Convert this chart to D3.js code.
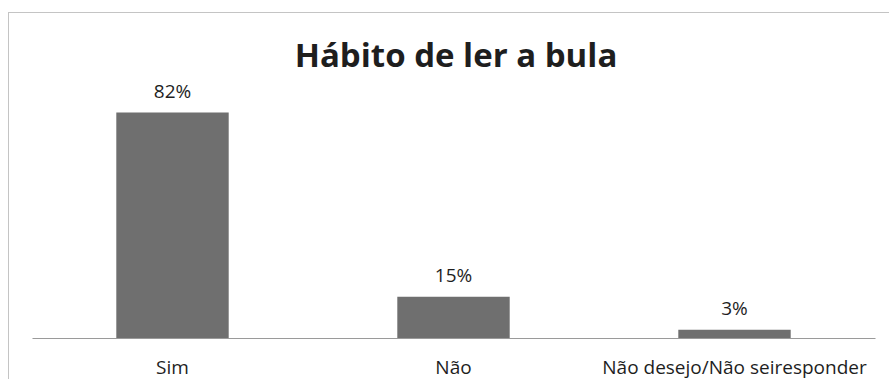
<!DOCTYPE html>
<html>
<head>
<meta charset="utf-8">
<script src="https://cdn.jsdelivr.net/npm/d3@7"></script>
<style>
  html, body { margin: 0; padding: 0; background: #fff; }
  svg { display: block; }
  text { font-family: "Open Sans", "Noto Sans", sans-serif; fill: #1e1e1e; }
</style>
</head>
<body>
<svg id="chart" width="889" height="379"></svg>
<script>
// Survey answers: habit of reading the medicine leaflet
const categories = ["Sim", "Não", "Não desejo/Não seiresponder"];
const values = [82, 15, 3];
const valueLabels = ["82%", "15%", "3%"];
const title = "Hábito de ler a bula";

const svg = d3.select("#chart");
const W = 889, H = 379;

// chart frame (left and top edges visible)
svg.append("rect")
  .attr("x", 8.5).attr("y", 12.5)
  .attr("width", W + 10).attr("height", H + 10)
  .attr("fill", "#fff")
  .attr("stroke", "#c4c4c4")
  .attr("stroke-width", 1);

const plot = { left: 32, right: 875, base: 338 };

const x = d3.scaleBand()
  .domain(categories)
  .range([plot.left, plot.right])
  .paddingInner(0.6)
  .paddingOuter(0.3);

const y = d3.scaleLinear()
  .domain([0, 90])
  .range([plot.base, plot.base - 247.5]);

// bars
svg.append("g").selectAll("rect")
  .data(categories)
  .join("rect")
  .attr("x", d => x(d))
  .attr("y", (d, i) => y(values[i]))
  .attr("width", x.bandwidth())
  .attr("height", (d, i) => y(0) - y(values[i]))
  .attr("fill", "#6f6f6f");

// category axis line
const axis = d3.axisBottom(x).tickSize(0).tickPadding(0);
const gx = svg.append("g")
  .attr("transform", `translate(0,${plot.base})`)
  .call(axis);
gx.select(".domain").attr("stroke", "#9a9a9a").attr("stroke-width", 1.2);
gx.selectAll(".tick text")
  .attr("y", 36)
  .attr("dy", null)
  .style("font-family", "'Open Sans', sans-serif")
  .style("font-size", "19px")
  .attr("fill", "#1e1e1e");

// value labels above bars
svg.append("g").selectAll("text")
  .data(categories)
  .join("text")
  .attr("x", d => x(d) + x.bandwidth() / 2)
  .attr("y", (d, i) => y(values[i]) - 15)
  .attr("text-anchor", "middle")
  .style("font-size", "19px")
  .text((d, i) => valueLabels[i]);

// title
svg.append("text")
  .attr("x", 456)
  .attr("y", 67)
  .attr("text-anchor", "middle")
  .style("font-size", "33px")
  .style("font-weight", "bold")
  .attr("fill", "#000")
  .text(title);
</script>
</body>
</html>
